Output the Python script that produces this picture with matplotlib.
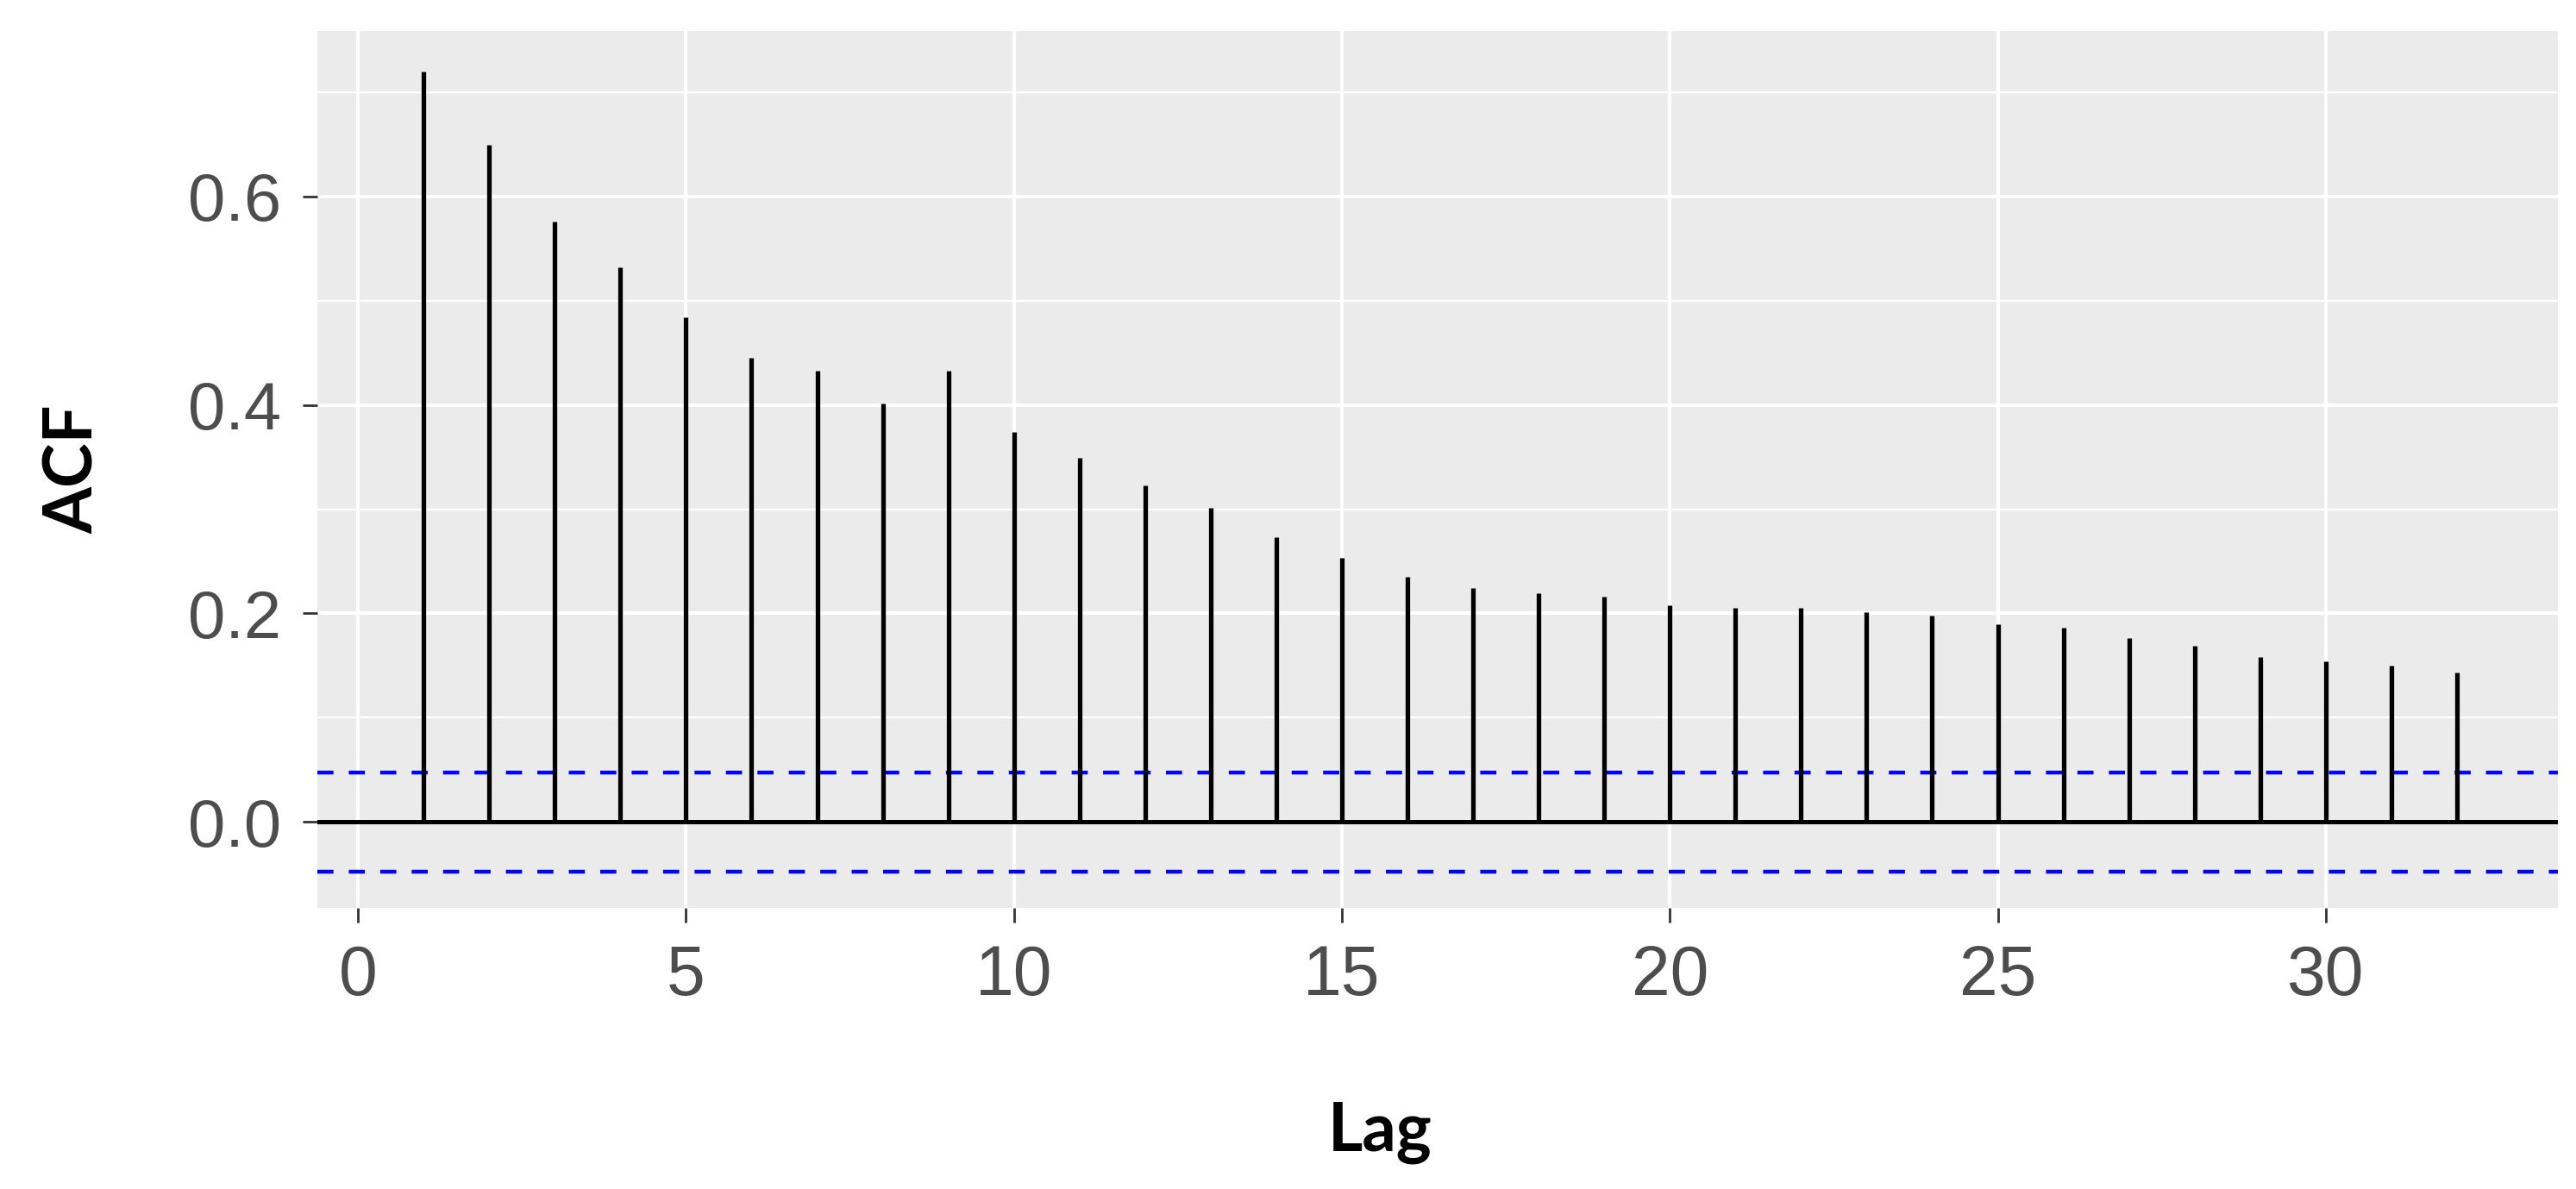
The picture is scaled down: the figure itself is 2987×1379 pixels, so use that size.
import numpy as np
import matplotlib.pyplot as plt
from matplotlib.ticker import MultipleLocator

# valeurs d'autocorrelation (lags 1 a 32)
lags = list(range(1, 33))
acf_vals = [0.720, 0.649, 0.576, 0.532, 0.484, 0.445, 0.433, 0.401,
            0.433, 0.374, 0.349, 0.323, 0.301, 0.273, 0.253, 0.235,
            0.224, 0.219, 0.216, 0.208, 0.205, 0.205, 0.201, 0.198,
            0.190, 0.186, 0.176, 0.169, 0.158, 0.154, 0.150, 0.143]
conf_limit = 0.0475  # bornes de confiance (lignes bleues)

x_ticks = [0, 5, 10, 15, 20, 25, 30]
y_ticks = [0.0, 0.2, 0.4, 0.6]

W, H = 2987, 1379
fig = plt.figure(figsize=(W / 100, H / 100), dpi=100)
ax = fig.add_axes([368 / W, 1 - 1053 / H, (2966 - 368) / W, (1053 - 36) / H])

# fond gris facon ggplot
ax.set_facecolor('#EBEBEB')
for s in ax.spines.values():
    s.set_visible(False)

ax.set_xlim(-0.62, 33.54)
ax.set_ylim(-0.0824, 0.7585)

ax.set_xticks(x_ticks)
ax.set_yticks(y_ticks)
ax.yaxis.set_minor_locator(MultipleLocator(0.1))
ax.set_yticklabels([f'{v:.1f}' for v in y_ticks])
ax.grid(which='major', color='white', linewidth=3.0)
ax.grid(which='minor', axis='y', color='white', linewidth=1.6)
ax.tick_params(which='minor', length=0)
ax.set_axisbelow(True)

ax.tick_params(axis='both', which='major', length=12, width=2, color='#333333',
               labelcolor='#4D4D4D')
ax.tick_params(axis='y', labelsize=56, pad=18)
ax.tick_params(axis='x', labelsize=58, pad=18)
for lab in ax.get_xticklabels() + ax.get_yticklabels():
    lab.set_fontfamily('Liberation Sans')

# ligne zero + bornes de confiance
ax.axhline(0, color='black', linewidth=3.6, zorder=2)
ax.axhline(conf_limit, color='#0000FF', linewidth=3.2, linestyle=(0, (4.2, 4.0)), zorder=3)
ax.axhline(-conf_limit, color='#0000FF', linewidth=3.2, linestyle=(0, (4.2, 4.0)), zorder=3)

# barres verticales de l'ACF
ax.vlines(lags, 0, acf_vals, color='black', linewidth=3.8, zorder=4)

fig.text(1600 / W, 1 - 1314 / H, 'Lag', fontsize=56, fontweight='bold',
         family='Lato', ha='center', va='center')
fig.text(86 / W, 1 - 544 / H, 'ACF', fontsize=56, fontweight='bold',
         family='Lato', ha='center', va='center', rotation=90)

fig.savefig('out.png', dpi=100, facecolor='white')
